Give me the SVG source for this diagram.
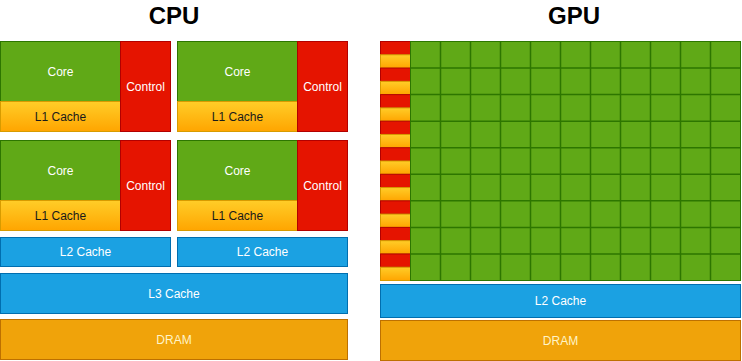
<svg xmlns="http://www.w3.org/2000/svg" width="742" height="361" viewBox="0 0 742 361">
<defs>
<linearGradient id="yg" x1="0" y1="0" x2="0" y2="1">
<stop offset="0" stop-color="#ffcd28"/>
<stop offset="1" stop-color="#ffa500"/>
</linearGradient>
<style>
.core{fill:#60a917;stroke:#2d7600;stroke-width:1}
.ctrl{fill:#e51400;stroke:#b20000;stroke-width:1}
.l1{fill:url(#yg);stroke:#d79b00;stroke-width:1}
.blue{fill:#1ba1e2;stroke:#006eaf;stroke-width:1}
.dram{fill:#f0a30a;stroke:#bd7000;stroke-width:1}
text{font-family:"Liberation Sans",Arial,Helvetica,sans-serif;font-size:12px;text-anchor:middle}
.w{fill:#ffffff}
.k{fill:#1a1a1a}
.dt{fill:#fff4c8}
.title{font-size:24px;font-weight:bold;fill:#000000}
</style>
</defs>
<g id="titles">
<text class="title" x="174" y="24">CPU</text>
<text class="title" x="574" y="24">GPU</text>
</g>
<g id="cpu-block-1">
<rect class="core" x="0.5" y="41.5" width="120" height="60"/>
<rect class="l1" x="0.5" y="101.5" width="120" height="30"/>
<rect class="ctrl" x="120.5" y="41.5" width="50" height="90"/>
<text class="w" x="60.5" y="75.5">Core</text>
<text class="k" x="60.5" y="120.5">L1 Cache</text>
<text class="w" x="145.5" y="90.5">Control</text>
</g>
<g id="cpu-block-2">
<rect class="core" x="177.5" y="41.5" width="120" height="60"/>
<rect class="l1" x="177.5" y="101.5" width="120" height="30"/>
<rect class="ctrl" x="297.5" y="41.5" width="50" height="90"/>
<text class="w" x="237.5" y="75.5">Core</text>
<text class="k" x="237.5" y="120.5">L1 Cache</text>
<text class="w" x="322.5" y="90.5">Control</text>
</g>
<g id="cpu-block-3">
<rect class="core" x="0.5" y="140.5" width="120" height="60"/>
<rect class="l1" x="0.5" y="200.5" width="120" height="30"/>
<rect class="ctrl" x="120.5" y="140.5" width="50" height="90"/>
<text class="w" x="60.5" y="174.5">Core</text>
<text class="k" x="60.5" y="219.5">L1 Cache</text>
<text class="w" x="145.5" y="189.5">Control</text>
</g>
<g id="cpu-block-4">
<rect class="core" x="177.5" y="140.5" width="120" height="60"/>
<rect class="l1" x="177.5" y="200.5" width="120" height="30"/>
<rect class="ctrl" x="297.5" y="140.5" width="50" height="90"/>
<text class="w" x="237.5" y="174.5">Core</text>
<text class="k" x="237.5" y="219.5">L1 Cache</text>
<text class="w" x="322.5" y="189.5">Control</text>
</g>
<g id="cpu-l2-1">
<rect class="blue" x="0.5" y="237.5" width="170" height="29"/>
<text class="w" x="85.5" y="256">L2 Cache</text>
</g>
<g id="cpu-l2-2">
<rect class="blue" x="177.5" y="237.5" width="170" height="29"/>
<text class="w" x="262.5" y="256">L2 Cache</text>
</g>
<g id="cpu-l3">
<rect class="blue" x="0.5" y="273.5" width="347" height="40"/>
<text class="w" x="174" y="297.5">L3 Cache</text>
</g>
<g id="cpu-dram">
<rect class="dram" x="0.5" y="319.5" width="347" height="40"/>
<text class="dt" x="174" y="343.5">DRAM</text>
</g>
<g id="gpu-control-cache">
<rect class="ctrl" x="380.5" y="41.5" width="30" height="13.28"/>
<rect class="l1" x="380.5" y="54.78" width="30" height="13.28"/>
<rect class="ctrl" x="380.5" y="68.06" width="30" height="13.28"/>
<rect class="l1" x="380.5" y="81.33" width="30" height="13.28"/>
<rect class="ctrl" x="380.5" y="94.61" width="30" height="13.28"/>
<rect class="l1" x="380.5" y="107.89" width="30" height="13.28"/>
<rect class="ctrl" x="380.5" y="121.17" width="30" height="13.28"/>
<rect class="l1" x="380.5" y="134.44" width="30" height="13.28"/>
<rect class="ctrl" x="380.5" y="147.72" width="30" height="13.28"/>
<rect class="l1" x="380.5" y="161" width="30" height="13.28"/>
<rect class="ctrl" x="380.5" y="174.28" width="30" height="13.28"/>
<rect class="l1" x="380.5" y="187.56" width="30" height="13.28"/>
<rect class="ctrl" x="380.5" y="200.83" width="30" height="13.28"/>
<rect class="l1" x="380.5" y="214.11" width="30" height="13.28"/>
<rect class="ctrl" x="380.5" y="227.39" width="30" height="13.28"/>
<rect class="l1" x="380.5" y="240.67" width="30" height="13.28"/>
<rect class="ctrl" x="380.5" y="253.94" width="30" height="13.28"/>
<rect class="l1" x="380.5" y="267.22" width="30" height="13.28"/>
</g>
<g id="gpu-cores">
<rect class="core" x="410.5" y="41.5" width="330" height="239"/>
<path d="M440.5 41.5V280.5M470.5 41.5V280.5M500.5 41.5V280.5M530.5 41.5V280.5M560.5 41.5V280.5M590.5 41.5V280.5M620.5 41.5V280.5M650.5 41.5V280.5M680.5 41.5V280.5M710.5 41.5V280.5M410.5 68.06H740.5M410.5 94.61H740.5M410.5 121.17H740.5M410.5 147.72H740.5M410.5 174.28H740.5M410.5 200.83H740.5M410.5 227.39H740.5M410.5 253.94H740.5" fill="none" stroke="#2d7600" stroke-width="1.5"/>
</g>
<g id="gpu-l2">
<rect class="blue" x="380.5" y="284.5" width="360" height="33"/>
<text class="w" x="560.5" y="305">L2 Cache</text>
</g>
<g id="gpu-dram">
<rect class="dram" x="380.5" y="320.5" width="360" height="40"/>
<text class="dt" x="560.5" y="344.5">DRAM</text>
</g>
<g id="connectors"/>
</svg>
